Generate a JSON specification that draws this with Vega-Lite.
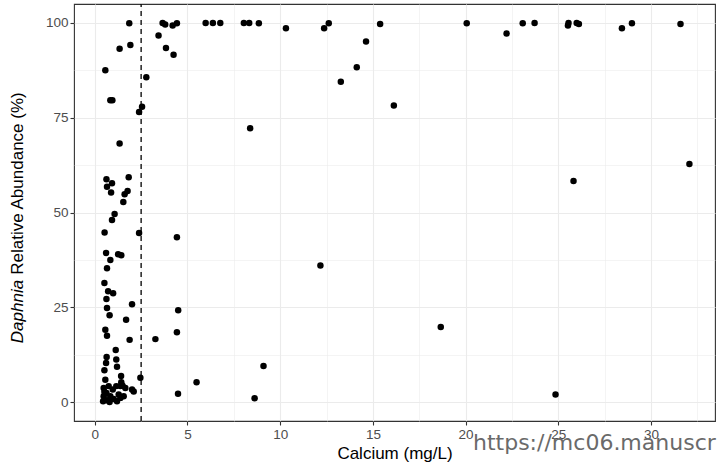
{
  "$schema": "https://vega.github.io/schema/vega-lite/v6.json",
  "width": 641,
  "height": 417,
  "autosize": {"type": "none"},
  "padding": {"left": 74, "top": 4, "right": 2, "bottom": 48},
  "background": "white",
  "config": {
    "view": {"stroke": "#333333", "strokeWidth": 1.1},
    "font": "Liberation Sans"
  },
  "title": {
    "text": "https://mc06.manuscr",
    "orient": "bottom",
    "anchor": "start",
    "frame": "group",
    "dx": 399,
    "dy": -12,
    "offset": 0,
    "fontSize": 22,
    "fontWeight": "normal",
    "font": "DejaVu Sans",
    "color": "#6a6a6a",
    "baseline": "alphabetic"
  },
  "layer": [
    {
      "data": {"values": [{}]},
      "mark": {"type": "rule", "strokeDash": [5, 4], "color": "black", "strokeWidth": 1.3},
      "encoding": {
        "x": {"datum": 2.5, "type": "quantitative"},
        "y": {
          "datum": -5,
          "type": "quantitative",
          "scale": {"domain": [-5, 105], "nice": false, "zero": false},
          "axis": {
            "orient": "left",
            "labels": false,
            "ticks": false,
            "grid": false,
            "domain": false,
            "title": "Daphnia",
            "titleFontStyle": "italic",
            "titleFontWeight": "normal",
            "titleFontSize": 17,
            "titleColor": "black",
            "titleX": -52,
            "titleY": 307,
            "titleBaseline": "alphabetic",
            "titleAngle": -90,
            "titleAlign": "center"
          }
        },
        "y2": {"datum": 105}
      }
    },
    {
      "data": {
        "values": [
          {"calcium": 1.86, "daphnia": 99.9},
          {"calcium": 3.66, "daphnia": 100},
          {"calcium": 3.80, "daphnia": 99.6},
          {"calcium": 4.20, "daphnia": 99.3},
          {"calcium": 4.43, "daphnia": 99.9},
          {"calcium": 3.44, "daphnia": 96.7},
          {"calcium": 3.84, "daphnia": 93.4},
          {"calcium": 4.25, "daphnia": 91.6},
          {"calcium": 5.98, "daphnia": 100},
          {"calcium": 6.37, "daphnia": 100},
          {"calcium": 6.77, "daphnia": 100},
          {"calcium": 8.04, "daphnia": 100},
          {"calcium": 8.33, "daphnia": 100},
          {"calcium": 8.85, "daphnia": 99.9},
          {"calcium": 10.31, "daphnia": 98.6},
          {"calcium": 12.37, "daphnia": 98.6},
          {"calcium": 12.62, "daphnia": 99.9},
          {"calcium": 13.27, "daphnia": 84.5},
          {"calcium": 14.13, "daphnia": 88.3},
          {"calcium": 14.63, "daphnia": 95.1},
          {"calcium": 15.39, "daphnia": 99.7},
          {"calcium": 16.13, "daphnia": 78.2},
          {"calcium": 20.06, "daphnia": 99.9},
          {"calcium": 22.21, "daphnia": 97.2},
          {"calcium": 23.08, "daphnia": 99.9},
          {"calcium": 23.72, "daphnia": 100},
          {"calcium": 25.52, "daphnia": 99.3},
          {"calcium": 25.55, "daphnia": 100},
          {"calcium": 25.99, "daphnia": 100},
          {"calcium": 26.11, "daphnia": 99.7},
          {"calcium": 28.43, "daphnia": 98.6},
          {"calcium": 28.97, "daphnia": 99.9},
          {"calcium": 31.59, "daphnia": 99.7},
          {"calcium": 25.82, "daphnia": 58.3},
          {"calcium": 32.07, "daphnia": 62.8},
          {"calcium": 18.66, "daphnia": 19.8},
          {"calcium": 24.85, "daphnia": 2.0},
          {"calcium": 8.38, "daphnia": 72.2},
          {"calcium": 2.78, "daphnia": 85.7},
          {"calcium": 2.55, "daphnia": 77.9},
          {"calcium": 2.39, "daphnia": 76.5},
          {"calcium": 4.43, "daphnia": 43.5},
          {"calcium": 12.17, "daphnia": 36.0},
          {"calcium": 4.50, "daphnia": 24.2},
          {"calcium": 4.43, "daphnia": 18.4},
          {"calcium": 3.27, "daphnia": 16.6},
          {"calcium": 9.10, "daphnia": 9.5},
          {"calcium": 5.49, "daphnia": 5.2},
          {"calcium": 4.49, "daphnia": 2.2},
          {"calcium": 8.62, "daphnia": 1.0},
          {"calcium": 1.92, "daphnia": 94.2},
          {"calcium": 1.34, "daphnia": 93.2},
          {"calcium": 0.57, "daphnia": 87.5},
          {"calcium": 0.84, "daphnia": 79.6},
          {"calcium": 0.95, "daphnia": 79.6},
          {"calcium": 1.34, "daphnia": 68.2},
          {"calcium": 1.83, "daphnia": 59.3},
          {"calcium": 0.63, "daphnia": 58.8},
          {"calcium": 0.93, "daphnia": 57.7},
          {"calcium": 0.66, "daphnia": 56.8},
          {"calcium": 0.88, "daphnia": 55.3},
          {"calcium": 1.77, "daphnia": 55.7},
          {"calcium": 1.61, "daphnia": 54.8},
          {"calcium": 1.54, "daphnia": 52.8},
          {"calcium": 1.07, "daphnia": 49.6},
          {"calcium": 0.93, "daphnia": 48.0},
          {"calcium": 0.53, "daphnia": 44.7},
          {"calcium": 2.39, "daphnia": 44.6},
          {"calcium": 0.61, "daphnia": 39.3},
          {"calcium": 1.26, "daphnia": 39.0},
          {"calcium": 1.43, "daphnia": 38.7},
          {"calcium": 0.84, "daphnia": 37.5},
          {"calcium": 0.66, "daphnia": 35.3},
          {"calcium": 0.52, "daphnia": 31.4},
          {"calcium": 0.72, "daphnia": 29.2},
          {"calcium": 0.99, "daphnia": 28.7},
          {"calcium": 0.63, "daphnia": 27.2},
          {"calcium": 2.01, "daphnia": 25.8},
          {"calcium": 0.66, "daphnia": 24.8},
          {"calcium": 0.80, "daphnia": 22.9},
          {"calcium": 1.69, "daphnia": 21.7},
          {"calcium": 0.57, "daphnia": 19.1},
          {"calcium": 0.66, "daphnia": 17.5},
          {"calcium": 1.88, "daphnia": 16.4},
          {"calcium": 1.13, "daphnia": 13.7},
          {"calcium": 0.64, "daphnia": 11.9},
          {"calcium": 1.16, "daphnia": 11.2},
          {"calcium": 0.61, "daphnia": 10.3},
          {"calcium": 1.20, "daphnia": 9.3},
          {"calcium": 0.52, "daphnia": 8.4},
          {"calcium": 1.42, "daphnia": 6.9},
          {"calcium": 2.46, "daphnia": 6.4},
          {"calcium": 0.57, "daphnia": 5.9},
          {"calcium": 1.43, "daphnia": 5.2},
          {"calcium": 0.48, "daphnia": 3.7},
          {"calcium": 0.75, "daphnia": 4.2},
          {"calcium": 1.16, "daphnia": 4.2},
          {"calcium": 1.38, "daphnia": 4.2},
          {"calcium": 1.50, "daphnia": 4.3},
          {"calcium": 1.65, "daphnia": 3.7},
          {"calcium": 2.01, "daphnia": 3.3},
          {"calcium": 2.10, "daphnia": 2.8},
          {"calcium": 0.97, "daphnia": 3.3},
          {"calcium": 0.52, "daphnia": 2.7},
          {"calcium": 0.63, "daphnia": 2.4},
          {"calcium": 0.48, "daphnia": 1.5},
          {"calcium": 0.84, "daphnia": 1.5},
          {"calcium": 1.29, "daphnia": 2.0},
          {"calcium": 1.56, "daphnia": 1.5},
          {"calcium": 0.66, "daphnia": 0.5},
          {"calcium": 1.02, "daphnia": 0.8},
          {"calcium": 1.38, "daphnia": 1.1},
          {"calcium": 0.45, "daphnia": 0.2},
          {"calcium": 0.80, "daphnia": 0.0},
          {"calcium": 1.20, "daphnia": 0.2}
        ]
      },
      "mark": {"type": "circle", "size": 42, "color": "black", "opacity": 1},
      "encoding": {
        "x": {
          "field": "calcium",
          "type": "quantitative",
          "scale": {"domain": [-1.12, 33.45], "nice": false, "zero": false},
          "axis": {
            "orient": "bottom",
            "values": [0, 2.5, 5, 7.5, 10, 12.5, 15, 17.5, 20, 22.5, 25, 27.5, 30, 32.5],
            "labelExpr": "datum.value % 5 === 0 ? datum.label : ''",
            "labelOverlap": false,
            "labelFlush": false,
            "domain": false,
            "grid": true,
            "gridColor": "#EBEBEB",
            "gridWidth": {"condition": {"test": "datum.value % 5 === 0", "value": 1.1}, "value": 0.55},
            "tickOpacity": {"condition": {"test": "datum.value % 5 === 0", "value": 1}, "value": 0},
            "tickColor": "#333333",
            "tickSize": 4,
            "tickWidth": 1.1,
            "labelColor": "#4D4D4D",
            "labelFontSize": 13.5,
            "labelPadding": 2,
            "title": "Calcium (mg/L)",
            "titleFontWeight": "normal",
            "titleFontSize": 17,
            "titleColor": "black",
            "titlePadding": 5
          }
        },
        "y": {
          "field": "daphnia",
          "type": "quantitative",
          "scale": {"domain": [-5, 105], "nice": false, "zero": false},
          "axis": {
            "orient": "left",
            "values": [0, 12.5, 25, 37.5, 50, 62.5, 75, 87.5, 100],
            "labelExpr": "datum.value % 25 === 0 ? datum.label : ''",
            "labelOverlap": false,
            "labelFlush": false,
            "domain": false,
            "grid": true,
            "gridColor": "#EBEBEB",
            "gridWidth": {"condition": {"test": "datum.value % 25 === 0", "value": 1.1}, "value": 0.55},
            "tickOpacity": {"condition": {"test": "datum.value % 25 === 0", "value": 1}, "value": 0},
            "tickColor": "#333333",
            "tickSize": 4,
            "tickWidth": 1.1,
            "labelColor": "#4D4D4D",
            "labelFontSize": 13.5,
            "labelPadding": 2,
            "title": "Relative Abundance (%)",
            "titleFontWeight": "normal",
            "titleFontSize": 17,
            "titleColor": "black",
            "titleX": -52,
            "titleY": 179,
            "titleBaseline": "alphabetic",
            "titleAngle": -90,
            "titleAlign": "center"
          }
        }
      }
    }
  ],
  "resolve": {"scale": {"y": "independent"}}
}
